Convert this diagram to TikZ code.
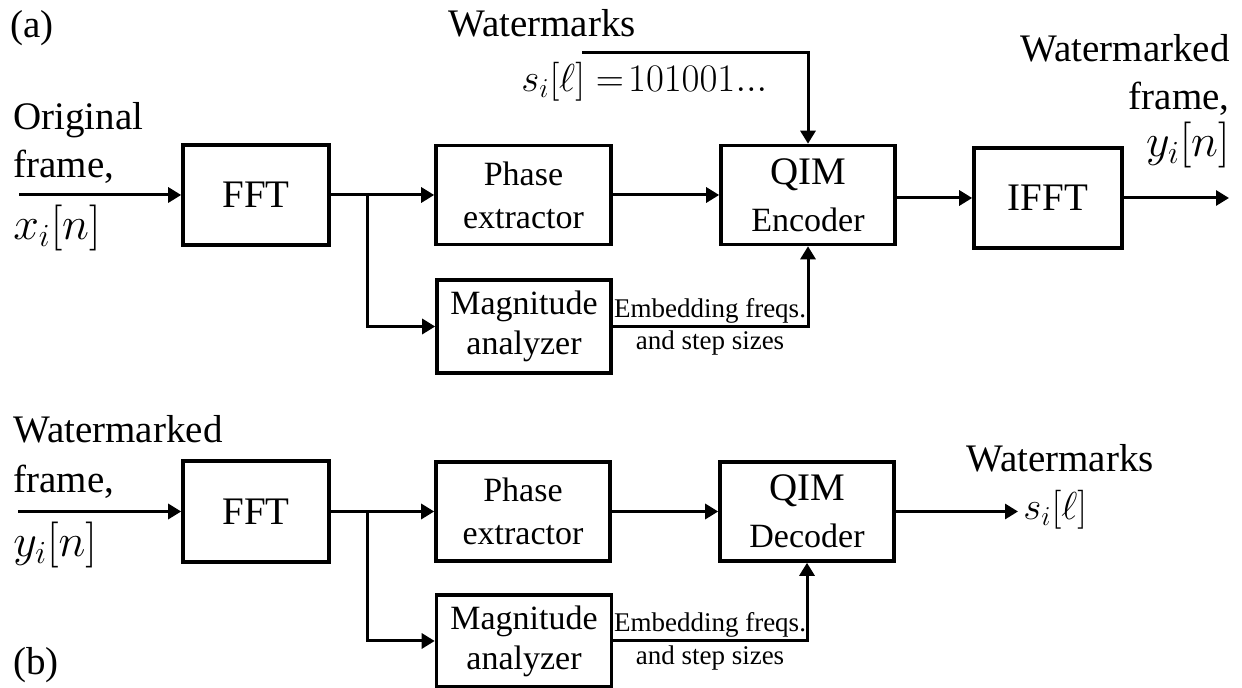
\RequirePackage{fix-cm}
\documentclass[tikz,border=0pt]{standalone}
\usepackage[no-math]{fontspec}
\setmainfont{Liberation Serif}
\usetikzlibrary{arrows.meta}
\tikzset{
 blk/.style={draw, line width=1.8pt, inner sep=0pt, align=center, font=\fontsize{17}{21.5}\selectfont},
 big/.style={font=\fontsize{19.5}{23}\selectfont},
 conn/.style={line width=1.5pt, -{Triangle[length=6.5pt,width=7.5pt]}},
 lbl/.style={inner sep=0pt, font=\fontsize{19.5}{23}\selectfont},
 sml/.style={inner sep=0pt, font=\fontsize{13.5}{16}\selectfont},
 mth/.style={inner sep=0pt, font=\fontsize{23}{26}\selectfont},
 smth/.style={inner sep=0pt, font=\fontsize{19.5}{23}\selectfont},
}
\begin{document}
\begin{tikzpicture}[x=0.5pt,y=-0.5pt]
\useasboundingbox (0,0) rectangle (1242,688);
% ---------- (a) ----------
\node[blk, big, minimum width=73pt, minimum height=50pt] (fftA) at (256,195) {FFT};
\node[blk, minimum width=87.5pt, minimum height=49.5pt] (phA) at (523.5,195) {Phase\\extractor};
\node[blk, minimum width=87pt, minimum height=49.5pt, font=\fontsize{17}{23.5}\selectfont] (qimA) at (808,195) {{\fontsize{19.5}{23.5}\selectfont QIM}\\Encoder};
\node[blk, big, minimum width=74pt, minimum height=50pt] (ifft) at (1048,198) {IFFT};
\node[blk, minimum width=87pt, minimum height=46.5pt, font=\fontsize{17}{20}\selectfont] (magA) at (524,326.5) {Magnitude\\analyzer};

\node[lbl, anchor=base west] (labA) at (10,38) {(a)};
\node[lbl, anchor=base west] (origA) at (13,130) {Original};
\node[lbl, anchor=base west] (frA) at (13,178) {frame,};
\node[mth, anchor=base west] (xA) at (13,240) {$x_i[n]$};
\coordinate (inA) at (19,195);
\draw[conn] (inA) -- (fftA.west);
\coordinate (brA) at (367,195);
\draw[conn] (fftA.east) -- (phA.west);
\draw[conn] (brA) |- (magA.west);
\draw[conn] (phA.east) -- (qimA.west);
\draw[conn] (magA.east) -| (qimA.south);
\draw[conn] (qimA.east |- ifft.west) -- (ifft.west);
\coordinate (outA) at (1229,198);
\draw[conn] (ifft.east) -- (outA);

\node[lbl, anchor=base west] (wmA) at (448,37) {Watermarks};
\node[smth, anchor=base west] (sA) at (521,92) {$s_i[\ell] =\!101001...$};
\coordinate (wmStart) at (582,53);
\draw[conn] (wmStart) -| (qimA.north);

\node[lbl, anchor=base east] (wmdA) at (1230,62) {Watermarked};
\node[lbl, anchor=base east] (frA2) at (1230,110) {frame,};
\node[mth, anchor=base east] (yA) at (1230,157) {$y_i[n]$};

\node[sml, anchor=base] (embA) at (710,318) {Embedding freqs.};
\node[sml, anchor=base] (stepA) at (710,350) {and step sizes};

% ---------- (b) ----------
\node[blk, big, minimum width=73pt, minimum height=50.5pt] (fftB) at (256,511.5) {FFT};
\node[blk, minimum width=87pt, minimum height=49.5pt] (phB) at (523,511.5) {Phase\\extractor};
\node[blk, minimum width=87pt, minimum height=49.5pt, font=\fontsize{17}{23.5}\selectfont] (qimB) at (807,511.5) {{\fontsize{19.5}{23.5}\selectfont QIM}\\Decoder};
\node[blk, minimum width=87.5pt, minimum height=46pt, font=\fontsize{17}{20}\selectfont] (magB) at (524,641) {Magnitude\\analyzer};

\node[lbl, anchor=base west] (wmdB) at (13,443) {Watermarked};
\node[lbl, anchor=base west] (frB) at (13,493) {frame,};
\node[mth, anchor=base west] (yB) at (13,557) {$y_i[n]$};
\node[lbl, anchor=base west] (labB) at (13,675) {(b)};

\coordinate (inB) at (18,511.5);
\draw[conn] (inB) -- (fftB.west);
\coordinate (brB) at (367,511.5);
\draw[conn] (fftB.east) -- (phB.west);
\draw[conn] (brB) |- (magB.west);
\draw[conn] (phB.east) -- (qimB.west);
\draw[conn] (magB.east) -| (qimB.south);
\coordinate (outB) at (1018,511.5);
\draw[conn] (qimB.east) -- (outB);

\node[lbl, anchor=base west] (wmB) at (966,472) {Watermarks};
\node[smth, anchor=base west] (sB) at (1023,520) {$s_i[\ell]$};

\node[sml, anchor=base] (embB) at (710,632) {Embedding freqs.};
\node[sml, anchor=base] (stepB) at (710,665) {and step sizes};
\end{tikzpicture}
\end{document}
